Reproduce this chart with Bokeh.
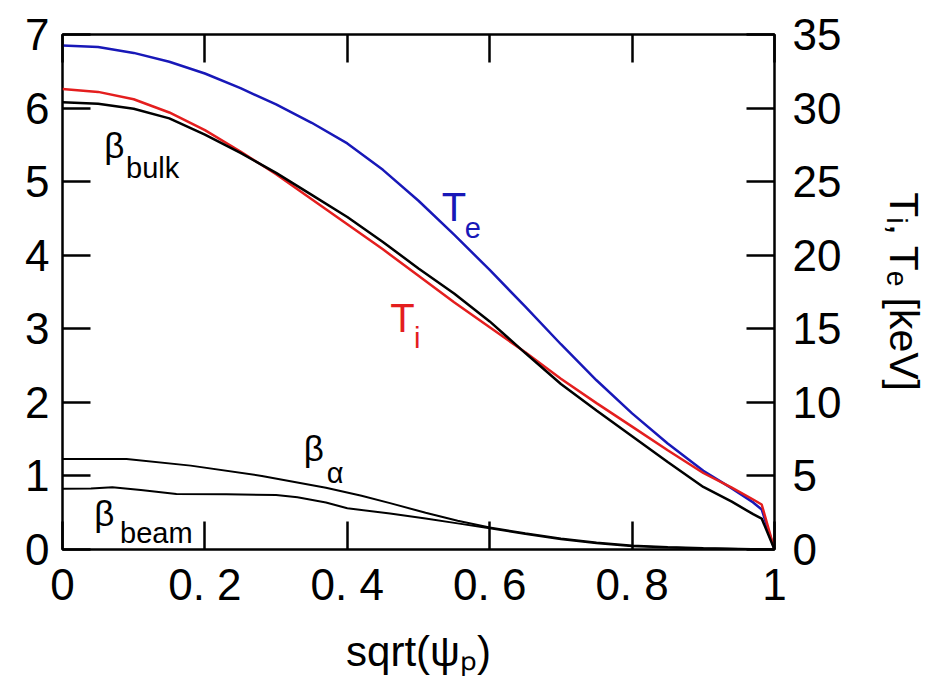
from bokeh.plotting import figure
from bokeh.models import LinearAxis, Range1d, FixedTicker, Label
from bokeh.embed import file_html
from bokeh.resources import INLINE

# ---- data ----
s_grid = [0, 0.05, 0.1, 0.15, 0.2, 0.25, 0.3, 0.35, 0.4, 0.45, 0.5, 0.55, 0.6,
          0.65, 0.7, 0.75, 0.8, 0.85, 0.9, 0.94, 0.97, 0.982, 1.0]
Te_keV = [34.25, 34.15, 33.75, 33.15, 32.35, 31.35, 30.25, 29.0, 27.6, 25.8, 23.7, 21.4, 19.0,
          16.5, 13.95, 11.5, 9.25, 7.2, 5.35, 4.15, 3.2, 2.72, 0.0]
Ti_keV = [31.3, 31.1, 30.6, 29.7, 28.5, 27.05, 25.5, 23.8, 22.1, 20.4, 18.6, 16.8, 15.1,
          13.4, 11.6, 9.95, 8.35, 6.75, 5.2, 4.2, 3.4, 3.06, 0.0]
beta_bulk = [6.08, 6.06, 5.99, 5.86, 5.64, 5.39, 5.12, 4.82, 4.52, 4.18, 3.82, 3.48, 3.10,
             2.67, 2.25, 1.89, 1.54, 1.19, 0.85, 0.65, 0.48, 0.42, 0.0]

s_alpha = [0, 0.09, 0.18, 0.28, 0.37, 0.42, 0.46, 0.51, 0.555, 0.60, 0.65, 0.70, 0.75,
           0.80, 0.85, 0.90, 0.95, 1.0]
beta_alpha = [1.23, 1.23, 1.14, 1.0, 0.84, 0.73, 0.63, 0.50, 0.39, 0.30, 0.22, 0.15, 0.095,
              0.055, 0.035, 0.02, 0.01, 0.0]

s_beam = [0, 0.04, 0.07, 0.11, 0.16, 0.23, 0.30, 0.33, 0.37, 0.40, 0.46, 0.51, 0.555, 0.60,
          0.65, 0.70, 0.75, 0.80, 0.85, 0.90, 0.95, 1.0]
beta_beam = [0.825, 0.83, 0.845, 0.81, 0.755, 0.75, 0.74, 0.71, 0.64, 0.56, 0.49, 0.42, 0.355,
             0.29, 0.21, 0.14, 0.085, 0.045, 0.028, 0.015, 0.006, 0.0]

x_ticks = [0, 0.2, 0.4, 0.6, 0.8, 1.0]
x_tick_labels = ["0", "0. 2", "0. 4", "0. 6", "0. 8", "1"]
beta_ticks = [0, 1, 2, 3, 4, 5, 6, 7]
T_ticks = [0, 5, 10, 15, 20, 25, 30, 35]

x_title = "sqrt(ψₚ)"
T_title = "Tᵢ, Tₑ [keV]"

BLUE = "#1818b8"
RED = "#e41e1e"
FONT = "Liberation Sans"

p = figure(width=930, height=680, x_range=Range1d(0, 1), y_range=Range1d(0, 7),
           output_backend="svg", toolbar_location=None,
           min_border_left=62, min_border_right=151, min_border_top=34, min_border_bottom=131)
p.extra_y_ranges = {"T": Range1d(0, 35)}
p.grid.visible = False
p.outline_line_color = "black"
p.outline_line_width = 2.5
p.background_fill_color = "white"
p.border_fill_color = "white"


def style(ax, fs="44px", standoff=12):
    ax.axis_line_color = None
    ax.major_tick_in = 28
    ax.major_tick_out = 0
    ax.major_tick_line_width = 2.5
    ax.major_tick_line_color = "black"
    ax.minor_tick_line_color = None
    ax.major_label_text_font = FONT
    ax.major_label_text_font_size = fs
    ax.major_label_text_color = "black"
    ax.major_label_standoff = standoff
    ax.axis_label_text_font = FONT
    ax.axis_label_text_font_style = "normal"
    ax.axis_label_text_color = "black"


xa = p.xaxis[0]
xa.ticker = FixedTicker(ticks=x_ticks)
xa.major_label_overrides = {t: l for t, l in zip(x_ticks, x_tick_labels)}
style(xa, standoff=10)
xa.axis_label = x_title
xa.axis_label_text_font_size = "42px"
xa.axis_label_standoff = 16

ya = p.yaxis[0]
ya.ticker = FixedTicker(ticks=beta_ticks)
style(ya, standoff=13)

ra = LinearAxis(y_range_name="T", ticker=FixedTicker(ticks=T_ticks))
style(ra, standoff=18)
ra.axis_label = T_title
ra.axis_label_text_font_size = "41px"
ra.axis_label_standoff = 37
p.add_layout(ra, "right")

ta = LinearAxis(ticker=FixedTicker(ticks=x_ticks))
style(ta, fs="1px", standoff=0)
ta.major_label_text_color = None
p.add_layout(ta, "above")

# ---- curves ----
p.line(s_grid, Te_keV, y_range_name="T", line_color=BLUE, line_width=2.5)
p.line(s_grid, Ti_keV, y_range_name="T", line_color=RED, line_width=2.5)
p.line(s_grid, beta_bulk, line_color="black", line_width=2.5)
p.line(s_alpha, beta_alpha, line_color="black", line_width=2.0)
p.line(s_beam, beta_beam, line_color="black", line_width=2.0)


def lab(x, y, text, size, color="black"):
    p.add_layout(Label(x=x, y=y, text=text, text_font=FONT, text_font_size=size,
                       text_color=color, text_align="left", text_baseline="alphabetic"))


# in-plot labels (data coordinates, baseline positions)
lab(0.0586, 5.49, "β", "35px")
lab(0.0893, 5.19, "bulk", "29px")
lab(0.0446, 0.49, "β", "35px")
lab(0.0809, 0.23, "beam", "29px")
lab(0.339, 1.37, "β", "35px")
lab(0.371, 1.045, "α", "29px")
lab(0.5328, 4.66, "T", "40px", BLUE)
lab(0.5649, 4.375, "e", "29px", BLUE)
lab(0.4603, 3.15, "T", "40px", RED)
lab(0.4937, 2.88, "i", "29px", RED)

open("out.html", "w").write(file_html(p, INLINE))
